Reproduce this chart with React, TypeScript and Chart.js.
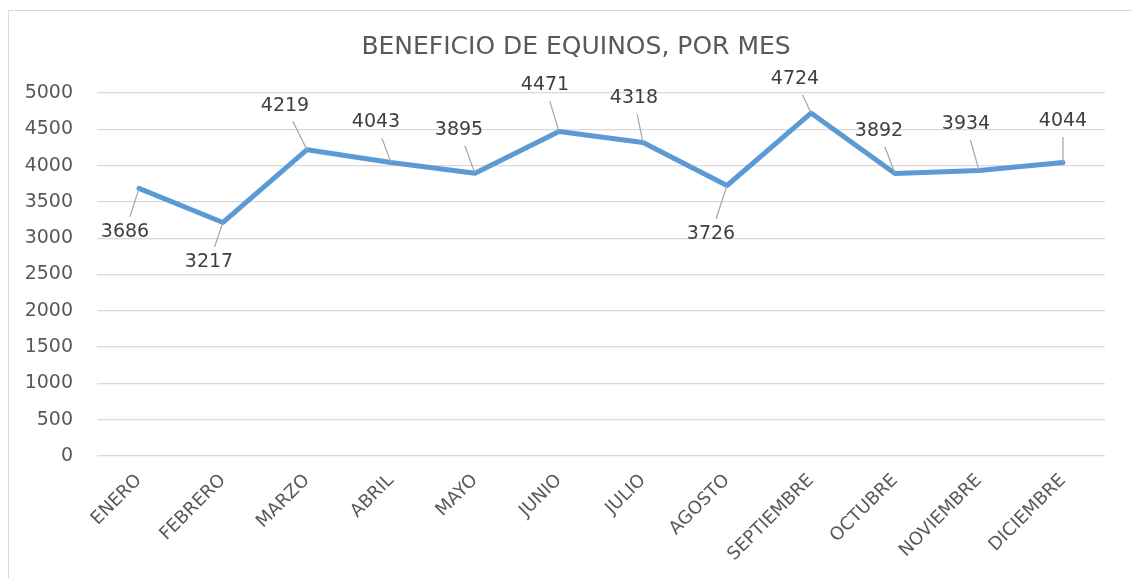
import React, { useEffect, useRef } from "react";
import { Chart, registerables } from "chart.js";

Chart.register(...registerables);

const TITLE = "BENEFICIO DE EQUINOS, POR MES";
const months = [
  "ENERO", "FEBRERO", "MARZO", "ABRIL", "MAYO", "JUNIO",
  "JULIO", "AGOSTO", "SEPTIEMBRE", "OCTUBRE", "NOVIEMBRE", "DICIEMBRE",
];
const profit = [3686, 3217, 4219, 4043, 3895, 4471, 4318, 3726, 4724, 3892, 3934, 4044];
const yTicks = [0, 500, 1000, 1500, 2000, 2500, 3000, 3500, 4000, 4500, 5000];
// data label offsets (label centre relative to point), as placed in the original
const labelOffsets: [number, number][] = [
  [-14, 44], [-14, 40], [-22, -44], [-15, -40], [-16, -43], [-14, -46],
  [-9, -44], [-16, 49], [-16, -34], [-16, -42], [-13, -46], [0, -41],
];

const FONT = '"DejaVu Sans", Verdana, sans-serif';

const titlePlugin = {
  id: "centredTitle",
  afterDraw(chart: any) {
    const ctx = chart.ctx as CanvasRenderingContext2D;
    ctx.save();
    ctx.font = `25px ${FONT}`;
    ctx.fillStyle = "#595959";
    ctx.textAlign = "center";
    ctx.textBaseline = "middle";
    ctx.fillText(TITLE, chart.width / 2, 36);
    ctx.restore();
  },
};

const labelPlugin = {
  id: "leaderLabels",
  afterDatasetsDraw(chart: any) {
    const ctx = chart.ctx as CanvasRenderingContext2D;
    const meta = chart.getDatasetMeta(0);
    ctx.save();
    ctx.font = `19px ${FONT}`;
    ctx.textAlign = "center";
    ctx.textBaseline = "middle";
    meta.data.forEach((pt: any, i: number) => {
      const [dx, dy] = labelOffsets[i];
      const cx = pt.x + dx;
      const cy = pt.y + dy;
      const text = String(profit[i]);
      const w = ctx.measureText(text).width;
      const hw = w / 2 + 4;
      const hh = 19 / 2 + 6;
      const vx = pt.x - cx;
      const vy = pt.y - cy;
      const t = Math.min(
        Math.abs(vx) < 1e-6 ? Infinity : hw / Math.abs(vx),
        Math.abs(vy) < 1e-6 ? Infinity : hh / Math.abs(vy)
      );
      if (t < 1) {
        ctx.strokeStyle = "#A6A6A6";
        ctx.lineWidth = 1.2;
        ctx.beginPath();
        ctx.moveTo(cx + vx * t, cy + vy * t);
        ctx.lineTo(pt.x, pt.y);
        ctx.stroke();
      }
      ctx.fillStyle = "#404040";
      ctx.fillText(text, cx, cy);
    });
    ctx.restore();
  },
};

export default function App() {
  const ref = useRef<HTMLCanvasElement>(null);
  useEffect(() => {
    if (!ref.current) return;
    const chart = new Chart(ref.current, {
      type: "line",
      data: {
        labels: months,
        datasets: [
          {
            data: profit,
            borderColor: "#5B9BD5",
            borderWidth: 5,
            pointRadius: 0,
            tension: 0,
            fill: false,
            borderCapStyle: "round",
            borderJoinStyle: "round",
          },
        ],
      },
      options: {
        responsive: false,
        animation: false,
        devicePixelRatio: 1,
        layout: { padding: { left: 0, right: 38, top: 82, bottom: 0 } },
        plugins: {
          legend: { display: false },
          tooltip: { enabled: false },
          title: { display: false },
        },
        scales: {
          x: {
            offset: true,
            grid: { display: false },
            border: { display: false },
            ticks: {
              color: "#595959",
              font: { family: FONT, size: 18 },
              minRotation: 45,
              maxRotation: 45,
              padding: 6,
              autoSkip: false,
            },
            afterFit(scale: any) {
              scale.height = 122;
            },
          },
          y: {
            min: 0,
            max: 5000,
            afterBuildTicks(scale: any) {
              scale.ticks = yTicks.map((v) => ({ value: v }));
            },
            grid: { color: "#D9D9D9", lineWidth: 1.3, drawTicks: false },
            border: { display: false },
            ticks: {
              color: "#595959",
              font: { family: FONT, size: 19 },
              padding: 24,
              callback: (v: any) => String(v),
            },
            afterFit(scale: any) {
              scale.width = 88;
            },
          },
        },
      },
      plugins: [labelPlugin, titlePlugin],
    });
    return () => chart.destroy();
  }, []);

  return (
    <div style={{ position: "fixed", left: 0, top: 0, width: 1132, height: 578, overflow: "hidden", background: "#fff" }}>
      <div
        style={{
          position: "absolute",
          left: 8,
          top: 10,
          borderLeft: "1.5px solid #D9D9D9",
          borderTop: "1.5px solid #D9D9D9",
          width: 1140,
          height: 580,
        }}
      >
        <canvas ref={ref} width={1134} height={567} style={{ display: "block", width: 1134, height: 567 }} />
      </div>
    </div>
  );
}
